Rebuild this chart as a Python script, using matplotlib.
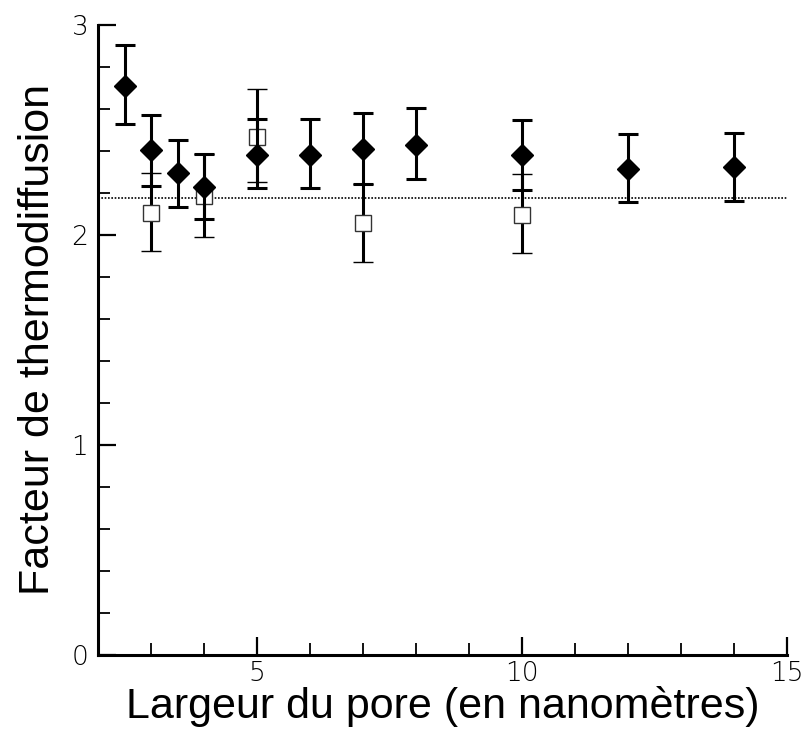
import matplotlib
matplotlib.use('Agg')
import matplotlib.pyplot as plt
from matplotlib.ticker import MultipleLocator
import numpy as np

# filled diamonds: pore width, value, lower and upper end of error bar
x_full = [2.5, 3, 3.5, 4, 5, 6, 7, 8, 10, 12, 14]
y_full = [2.71, 2.405, 2.295, 2.23, 2.381, 2.381, 2.408, 2.429, 2.381, 2.313, 2.321]
low_full = [2.527, 2.235, 2.135, 2.075, 2.225, 2.222, 2.241, 2.265, 2.214, 2.155, 2.163]
high_full = [2.905, 2.571, 2.452, 2.384, 2.552, 2.552, 2.579, 2.606, 2.546, 2.479, 2.487]

# open squares
x_open = [3, 4, 5, 7, 10]
y_open = [2.103, 2.183, 2.468, 2.056, 2.095]
low_open = [1.921, 1.992, 2.25, 1.870, 1.913]
high_open = [2.297, 2.384, 2.695, 2.241, 2.289]

# reference value (dotted line)
ref_value = 2.175

fig = plt.figure(figsize=(8.06, 7.31), dpi=100)
ax = fig.add_axes([0.1216, 0.104, 0.8548, 0.862])

# dotted reference line
ax.axhline(ref_value, color='black', linestyle=(0, (1, 1)), linewidth=1.2, zorder=1)

yerr_open = [np.array(y_open) - np.array(low_open), np.array(high_open) - np.array(y_open)]
ax.errorbar(x_open, y_open, yerr=yerr_open, fmt='s', markersize=12,
            markerfacecolor='white', markeredgecolor='#333333', markeredgewidth=1.0,
            ecolor='black', elinewidth=2.2, capsize=7.5, capthick=2.2, zorder=2)

yerr_full = [np.array(y_full) - np.array(low_full), np.array(high_full) - np.array(y_full)]
ax.errorbar(x_full, y_full, yerr=yerr_full, fmt='D', markersize=11,
            color='black', ecolor='black', elinewidth=2.2, capsize=7.5, capthick=2.2, zorder=3)

ax.set_xlim(2, 15)
ax.set_ylim(0, 3)

# only left and bottom axes
ax.spines['top'].set_visible(False)
ax.spines['right'].set_visible(False)
ax.spines['left'].set_linewidth(2.2)
ax.spines['bottom'].set_linewidth(2.2)

ax.xaxis.set_major_locator(MultipleLocator(5))
ax.xaxis.set_minor_locator(MultipleLocator(1))
ax.yaxis.set_major_locator(MultipleLocator(1))
ax.yaxis.set_minor_locator(MultipleLocator(0.2))
ax.tick_params(which='major', direction='in', length=13, width=1.6, pad=7)
ax.tick_params(axis='x', which='major', pad=4)
ax.tick_params(which='minor', direction='in', length=8.5, width=1.3)

for lab in ax.get_xticklabels() + ax.get_yticklabels():
    lab.set_fontfamily('DejaVu Sans')
    lab.set_fontweight('light')
    lab.set_fontsize(19)

ax.set_xlabel('Largeur du pore (en nanomètres)', fontsize=31, family='Liberation Sans', labelpad=0)
ax.set_ylabel('Facteur de thermodiffusion', fontsize=31, family='Liberation Sans', labelpad=10)

fig.savefig('out.png', dpi=100)
